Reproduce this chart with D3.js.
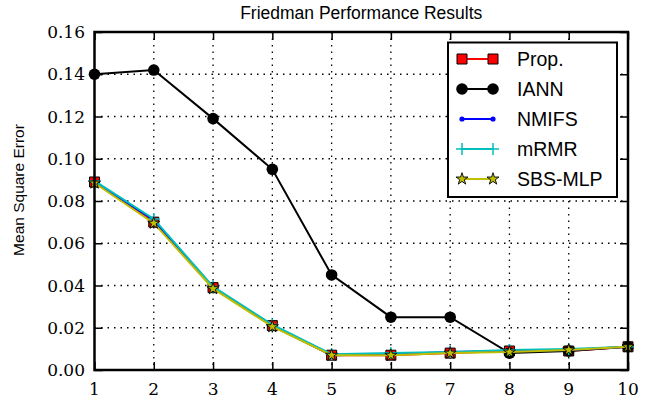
<!DOCTYPE html>
<html><head><meta charset="utf-8">
<script src="https://cdn.jsdelivr.net/npm/d3@7"></script>
<style>body{margin:0;background:#fff}svg{display:block}
.serif{font-family:"DejaVu Serif","Liberation Serif",serif;font-size:17px;}</style>
</head><body><svg id="c" width="656" height="401"></svg>
<script>
const xValues = [1,2,3,4,5,6,7,8,9,10];
const propVals  = [0.089, 0.070, 0.039, 0.021, 0.007, 0.007, 0.008, 0.009, 0.009, 0.011];
const iannVals  = [0.140, 0.142, 0.119, 0.095, 0.045, 0.025, 0.025, 0.008, 0.009, 0.011];
const nmifsVals = [0.089, 0.071, 0.039, 0.021, 0.007, 0.0075, 0.0085, 0.009, 0.0095, 0.011];
const mrmrVals  = [0.0895, 0.0715, 0.0395, 0.0215, 0.0075, 0.008, 0.0085, 0.0095, 0.010, 0.011];
const sbsVals   = [0.0885, 0.0695, 0.0385, 0.0205, 0.007, 0.007, 0.008, 0.0085, 0.0095, 0.011];
const seriesNames = ["Prop.", "IANN", "NMIFS", "mRMR", "SBS-MLP"];
const xTicks = [1,2,3,4,5,6,7,8,9,10];
const yTicks = [0,0.02,0.04,0.06,0.08,0.10,0.12,0.14,0.16];

const svg = d3.select("#c");
const L=94.5, R=628, T=32, B=370;
const x = d3.scaleLinear().domain([1,10]).range([L,R]);
const y = d3.scaleLinear().domain([0,0.16]).range([B,T]);

// grid
const g = svg.append("g");
g.selectAll("line.gx").data(xTicks.slice(1,-1)).join("line")
  .attr("x1",d=>x(d)).attr("x2",d=>x(d)).attr("y1",T).attr("y2",B)
  .attr("stroke","#000").attr("stroke-width",1.3).attr("stroke-dasharray","1.5,5");
g.selectAll("line.gy").data(yTicks.slice(1,-1)).join("line")
  .attr("y1",d=>y(d)).attr("y2",d=>y(d)).attr("x1",L).attr("x2",R)
  .attr("stroke","#000").attr("stroke-width",1.3).attr("stroke-dasharray","1.5,5");

// axes: inward ticks from d3 axes, labels drawn as serif text
const fmt = d3.format(".2f");
const axes = [
  svg.append("g").attr("transform",`translate(0,${B})`).call(d3.axisBottom(x).tickValues(xTicks).tickSizeInner(-8).tickSizeOuter(0).tickFormat("")),
  svg.append("g").attr("transform",`translate(0,${T})`).call(d3.axisTop(x).tickValues(xTicks).tickSizeInner(-8).tickSizeOuter(0).tickFormat("")),
  svg.append("g").attr("transform",`translate(${L},0)`).call(d3.axisLeft(y).tickValues(yTicks).tickSizeInner(-8).tickSizeOuter(0).tickFormat("")),
  svg.append("g").attr("transform",`translate(${R},0)`).call(d3.axisRight(y).tickValues(yTicks).tickSizeInner(-8).tickSizeOuter(0).tickFormat(""))
];
axes.forEach(a=>{
  a.select(".domain").remove();
  a.selectAll(".tick text").remove();
  a.selectAll(".tick line").attr("stroke","#000").attr("stroke-width",1.5);
});
svg.append("g").selectAll("text").data(xTicks).join("text")
  .attr("class","serif").attr("x",d=>x(d)).attr("y",395).attr("text-anchor","middle")
  .attr("fill","#000").text(d=>d);
svg.append("g").selectAll("text").data(yTicks).join("text")
  .attr("class","serif").attr("x",L-9.5).attr("y",d=>y(d)+6).attr("text-anchor","end")
  .attr("fill","#000").text(d=>fmt(d));

// series
const mk = {
  square: (sel)=>sel.append("path").attr("d",d3.symbol(d3.symbolSquare,100)()).attr("fill","#ff0000").attr("stroke","#000").attr("stroke-width",1),
  circle: (sel)=>sel.append("circle").attr("r",5.8).attr("fill","#000"),
  dot: (sel)=>sel.append("circle").attr("r",2.6).attr("fill","#0000ff"),
  plus: (sel)=>sel.append("path").attr("d","M-6,0H6M0,-6V6").attr("stroke","#00bfbf").attr("stroke-width",1.5).attr("fill","none"),
  star: (sel)=>sel.append("path").attr("d",d3.symbol(d3.symbolStar,45)()).attr("fill","#bfbf00").attr("stroke","#000").attr("stroke-width",0.9)
};
const series = [
  {name:seriesNames[0], vals:propVals, color:"#ff0000", m:"square"},
  {name:seriesNames[1], vals:iannVals, color:"#000000", m:"circle"},
  {name:seriesNames[2], vals:nmifsVals, color:"#0000ff", m:"dot"},
  {name:seriesNames[3], vals:mrmrVals, color:"#00bfbf", m:"plus"},
  {name:seriesNames[4], vals:sbsVals, color:"#bfbf00", m:"star"}
];
const line = d3.line().x((d,i)=>x(xValues[i])).y(d=>y(d));
series.forEach(s=>{
  const sg = svg.append("g");
  sg.append("path").attr("d",line(s.vals)).attr("fill","none").attr("stroke",s.color).attr("stroke-width",2);
  s.vals.forEach((v,i)=>{
    const p = sg.append("g").attr("transform",`translate(${x(xValues[i])},${y(v)})`);
    mk[s.m](p);
  });
});

// frame
svg.append("rect").attr("x",L).attr("y",T).attr("width",R-L).attr("height",B-T)
  .attr("fill","none").attr("stroke","#000").attr("stroke-width",2.5);

// title & y label
svg.append("text").attr("x",(L+R)/2).attr("y",19).attr("text-anchor","middle")
  .attr("font-family","'Liberation Sans', Arial, sans-serif").attr("font-size",17.5).text("Friedman Performance Results");
svg.append("text").attr("transform","translate(24,190) rotate(-90)").attr("text-anchor","middle")
  .attr("font-family","'Liberation Sans', Arial, sans-serif").attr("font-size",15.5).text("Mean Square Error");

// legend
const lg = svg.append("g");
lg.append("rect").attr("x",448).attr("y",42.5).attr("width",169).attr("height",154.5)
  .attr("fill","#fff").attr("stroke","#000").attr("stroke-width",2);
series.forEach((s,i)=>{
  const yy = 59 + 30*i;
  lg.append("line").attr("x1",462).attr("x2",493).attr("y1",yy).attr("y2",yy).attr("stroke",s.color).attr("stroke-width",2);
  [462,493].forEach(xx=>{ mk[s.m](lg.append("g").attr("transform",`translate(${xx},${yy})`)); });
  lg.append("text").attr("x",517).attr("y",yy+7).attr("font-family","'Liberation Sans', Arial, sans-serif")
    .attr("font-size",19.5).text(s.name);
});
</script></body></html>
